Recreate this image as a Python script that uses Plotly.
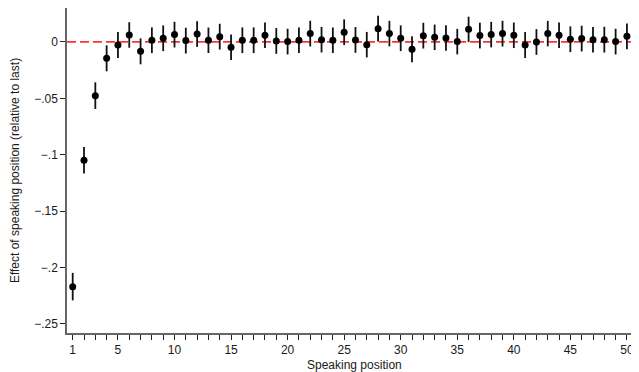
import plotly.graph_objects as go

# Speaking positions 1..50
positions = list(range(1, 51))

# Estimated effect (relative to last speaker)
effects = [
    -0.2169, -0.1049, -0.0476, -0.0145, -0.0027, 0.0062, -0.0083, 0.0015, 0.0033, 0.0065,
    0.0012, 0.0070, 0.0015, 0.0047, -0.0047, 0.0015, 0.0015, 0.0059, 0.0009, 0.0003,
    0.0015, 0.0074, 0.0020, 0.0015, 0.0086, 0.0018, -0.0024, 0.0118, 0.0074, 0.0033,
    -0.0065, 0.0056, 0.0041, 0.0035, 0.0003, 0.0112, 0.0057, 0.0065, 0.0074, 0.0059,
    -0.0027, 0.0000, 0.0074, 0.0059, 0.0024, 0.0030, 0.0020, 0.0020, 0.0003, 0.0050,
]

# Half-width of the confidence intervals
ci_half = [
    0.0122, 0.0118, 0.0118, 0.0115, 0.0115, 0.0113, 0.0115, 0.0114, 0.0114, 0.0114,
    0.0114, 0.0114, 0.0113, 0.0114, 0.0114, 0.0114, 0.0114, 0.0113, 0.0114, 0.0114,
    0.0113, 0.0114, 0.0113, 0.0113, 0.0114, 0.0114, 0.0113, 0.0114, 0.0113, 0.0114,
    0.0115, 0.0114, 0.0113, 0.0113, 0.0113, 0.0112, 0.0114, 0.0113, 0.0114, 0.0113,
    0.0115, 0.0114, 0.0113, 0.0113, 0.0114, 0.0114, 0.0113, 0.0114, 0.0114, 0.0114,
]

x_tick_vals = positions
x_tick_text = [str(p) if (p == 1 or p % 5 == 0) else "" for p in positions]
y_tick_vals = [0, -0.05, -0.1, -0.15, -0.2, -0.25]
y_tick_text = ["0", "\u2212.05", "\u2212.1", "\u2212.15", "\u2212.2", "\u2212.25"]

FONT = "Liberation Sans, Arial, Helvetica, sans-serif"

fig = go.Figure()
fig.add_hline(y=0, line=dict(color="#ff3333", width=1.7, dash="9px,4px"), layer="below")
fig.add_trace(go.Scatter(
    x=positions, y=effects, mode="markers",
    marker=dict(color="black", size=7),
    error_y=dict(type="data", array=ci_half, symmetric=True, width=0,
                 thickness=1.8, color="#111111"),
    showlegend=False, cliponaxis=False,
))

# The page body adds an 8px margin and the visible area ends at the body's right edge
fig.update_layout(
    width=623, height=364,
    margin=dict(l=59, r=0, t=0, b=39),
    paper_bgcolor="white", plot_bgcolor="white",
    font=dict(family=FONT, size=12, color="#1a1a1a"),
    xaxis=dict(
        range=[0.496, 50.36], tickvals=x_tick_vals, ticktext=x_tick_text,
        ticks="outside", ticklen=5, tickwidth=1, tickcolor="#222",
        showline=True, linecolor="#666", linewidth=1.5,
        showgrid=False, zeroline=False, automargin=False,
        tickfont=dict(size=12), ticklabeloverflow="allow",
    ),
    yaxis=dict(
        range=[-0.258, 0.0301], tickvals=y_tick_vals, ticktext=y_tick_text,
        ticks="outside", ticklen=5, tickwidth=1, tickcolor="#222",
        showline=True, linecolor="#666", linewidth=1.5,
        showgrid=False, zeroline=False, automargin=False,
        title=dict(text="Effect of speaking position (relative to last)", font=dict(size=12)),
        tickfont=dict(size=12),
    ),
    annotations=[dict(
        text="Speaking position", xref="paper", yref="paper",
        x=0.509, y=-32 / 325, xanchor="center", yanchor="middle",
        showarrow=False, font=dict(size=12),
    )],
)

fig.write_html("out.html")
